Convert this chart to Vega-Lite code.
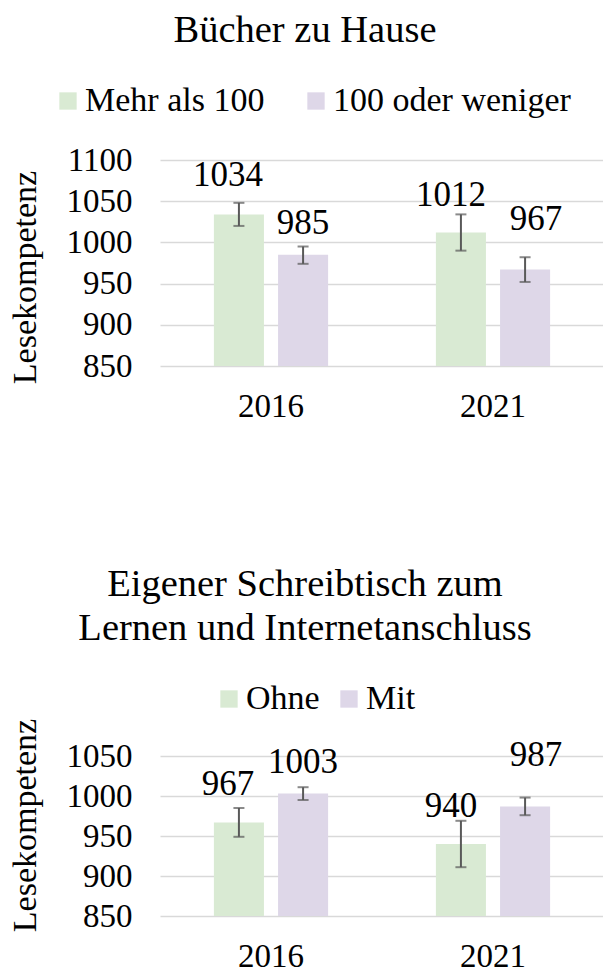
{
  "$schema": "https://vega.github.io/schema/vega-lite/v6.json",
  "padding": {"left": 8, "top": 10, "right": 0, "bottom": 0},
  "background": "white",
  "datasets": {
    "books": [
      {"year": "2016", "group": "Mehr als 100", "value": 1034, "lo": 1020, "hi": 1048},
      {"year": "2016", "group": "100 oder weniger", "value": 985, "lo": 974, "hi": 995},
      {"year": "2021", "group": "Mehr als 100", "value": 1012, "lo": 990, "hi": 1034},
      {"year": "2021", "group": "100 oder weniger", "value": 967, "lo": 952, "hi": 982}
    ],
    "desk": [
      {"year": "2016", "group": "Ohne", "value": 967, "lo": 949, "hi": 985},
      {"year": "2016", "group": "Mit", "value": 1003, "lo": 995, "hi": 1011},
      {"year": "2021", "group": "Ohne", "value": 940, "lo": 911, "hi": 969},
      {"year": "2021", "group": "Mit", "value": 987, "lo": 976, "hi": 998}
    ]
  },
  "vconcat": [
    {
      "width": 444,
      "height": 206,
      "data": {"name": "books"},
      "title": {"text": "Bücher zu Hause", "fontSize": 38.5, "font": "Liberation Serif", "fontWeight": "normal", "color": "#000000", "anchor": "middle", "frame": "group", "offset": 34, "dx": -77},
      "encoding": {
        "x": {"field": "year", "type": "nominal", "scale": {"paddingInner": 0, "paddingOuter": 0}, "axis": {"title": null, "labelAngle": 0}},
        "xOffset": {"field": "group", "type": "nominal", "sort": ["Mehr als 100", "100 oder weniger"], "scale": {"paddingInner": 0.22, "paddingOuter": 0.84}}
      },
      "layer": [
        {
          "mark": {"type": "bar", "clip": true},
          "encoding": {
            "y": {"field": "value", "type": "quantitative", "scale": {"domain": [850, 1100], "zero": false, "nice": false}, "axis": {"values": [850, 900, 950, 1000, 1050, 1100], "tickCount": 20, "format": "d", "title": "Lesekompetenz", "titleY": 117}},
            "color": {"field": "group", "type": "nominal", "sort": ["Mehr als 100", "100 oder weniger"], "scale": {"domain": ["Mehr als 100", "100 oder weniger"], "range": ["#d9ead3", "#ded7e8"]}, "legend": {"title": null, "orient": "none", "direction": "horizontal", "legendX": -109, "legendY": -76, "columnPadding": 34}}
          }
        },
        {
          "mark": {"type": "rule", "color": "#595959", "strokeWidth": 2},
          "encoding": {"y": {"field": "lo", "type": "quantitative"}, "y2": {"field": "hi"}}
        },
        {
          "mark": {"type": "tick", "color": "#595959", "thickness": 2, "size": 11},
          "encoding": {"y": {"field": "lo", "type": "quantitative"}}
        },
        {
          "mark": {"type": "tick", "color": "#595959", "thickness": 2, "size": 11},
          "encoding": {"y": {"field": "hi", "type": "quantitative"}}
        },
        {
          "transform": [{"filter": "datum.year == '2016' && datum.group == 'Mehr als 100'"}],
          "mark": {"type": "text", "fontSize": 35, "font": "Liberation Serif", "color": "#000000", "baseline": "alphabetic", "dx": -11, "dy": -28},
          "encoding": {"y": {"field": "value", "type": "quantitative"}, "text": {"field": "value", "type": "quantitative", "format": "d"}}
        },
        {
          "transform": [{"filter": "datum.year == '2016' && datum.group == '100 oder weniger'"}],
          "mark": {"type": "text", "fontSize": 35, "font": "Liberation Serif", "color": "#000000", "baseline": "alphabetic", "dx": 0, "dy": -20.5},
          "encoding": {"y": {"field": "value", "type": "quantitative"}, "text": {"field": "value", "type": "quantitative", "format": "d"}}
        },
        {
          "transform": [{"filter": "datum.year == '2021' && datum.group == 'Mehr als 100'"}],
          "mark": {"type": "text", "fontSize": 35, "font": "Liberation Serif", "color": "#000000", "baseline": "alphabetic", "dx": -10, "dy": -27},
          "encoding": {"y": {"field": "value", "type": "quantitative"}, "text": {"field": "value", "type": "quantitative", "format": "d"}}
        },
        {
          "transform": [{"filter": "datum.year == '2021' && datum.group == '100 oder weniger'"}],
          "mark": {"type": "text", "fontSize": 35, "font": "Liberation Serif", "color": "#000000", "baseline": "alphabetic", "dx": 11, "dy": -40},
          "encoding": {"y": {"field": "value", "type": "quantitative"}, "text": {"field": "value", "type": "quantitative", "format": "d"}}
        }
      ]
    },
    {
      "width": 444,
      "height": 160,
      "data": {"name": "desk"},
      "title": {"text": ["Eigener Schreibtisch zum", "Lernen und Internetanschluss"], "lineHeight": 44, "fontSize": 38.5, "font": "Liberation Serif", "fontWeight": "normal", "color": "#000000", "anchor": "middle", "frame": "group", "offset": 34, "dx": -77},
      "encoding": {
        "x": {"field": "year", "type": "nominal", "scale": {"paddingInner": 0, "paddingOuter": 0}, "axis": {"title": null, "labelAngle": 0}},
        "xOffset": {"field": "group", "type": "nominal", "sort": ["Ohne", "Mit"], "scale": {"paddingInner": 0.22, "paddingOuter": 0.84}}
      },
      "layer": [
        {
          "mark": {"type": "bar", "clip": true},
          "encoding": {
            "y": {"field": "value", "type": "quantitative", "scale": {"domain": [850, 1050], "zero": false, "nice": false}, "axis": {"values": [850, 900, 950, 1000, 1050], "tickCount": 20, "format": "d", "title": "Lesekompetenz", "titleY": 69, "labelOverlap": false}},
            "color": {"field": "group", "type": "nominal", "sort": ["Ohne", "Mit"], "scale": {"domain": ["Ohne", "Mit"], "range": ["#d9ead3", "#ded7e8"]}, "legend": {"title": null, "orient": "none", "direction": "horizontal", "legendX": 52, "legendY": -74, "columnPadding": 12}}
          }
        },
        {
          "mark": {"type": "rule", "color": "#595959", "strokeWidth": 2},
          "encoding": {"y": {"field": "lo", "type": "quantitative"}, "y2": {"field": "hi"}}
        },
        {
          "mark": {"type": "tick", "color": "#595959", "thickness": 2, "size": 11},
          "encoding": {"y": {"field": "lo", "type": "quantitative"}}
        },
        {
          "mark": {"type": "tick", "color": "#595959", "thickness": 2, "size": 11},
          "encoding": {"y": {"field": "hi", "type": "quantitative"}}
        },
        {
          "transform": [{"filter": "datum.year == '2016' && datum.group == 'Ohne'"}],
          "mark": {"type": "text", "fontSize": 35, "font": "Liberation Serif", "color": "#000000", "baseline": "alphabetic", "dx": -11, "dy": -27},
          "encoding": {"y": {"field": "value", "type": "quantitative"}, "text": {"field": "value", "type": "quantitative", "format": "d"}}
        },
        {
          "transform": [{"filter": "datum.year == '2016' && datum.group == 'Mit'"}],
          "mark": {"type": "text", "fontSize": 35, "font": "Liberation Serif", "color": "#000000", "baseline": "alphabetic", "dx": 0, "dy": -20.5},
          "encoding": {"y": {"field": "value", "type": "quantitative"}, "text": {"field": "value", "type": "quantitative", "format": "d"}}
        },
        {
          "transform": [{"filter": "datum.year == '2021' && datum.group == 'Ohne'"}],
          "mark": {"type": "text", "fontSize": 35, "font": "Liberation Serif", "color": "#000000", "baseline": "alphabetic", "dx": -10, "dy": -27},
          "encoding": {"y": {"field": "value", "type": "quantitative"}, "text": {"field": "value", "type": "quantitative", "format": "d"}}
        },
        {
          "transform": [{"filter": "datum.year == '2021' && datum.group == 'Mit'"}],
          "mark": {"type": "text", "fontSize": 35, "font": "Liberation Serif", "color": "#000000", "baseline": "alphabetic", "dx": 11, "dy": -40},
          "encoding": {"y": {"field": "value", "type": "quantitative"}, "text": {"field": "value", "type": "quantitative", "format": "d"}}
        }
      ]
    }
  ],
  "spacing": 141,
  "resolve": {"scale": {"color": "independent", "y": "independent", "x": "independent", "xOffset": "independent"}},
  "config": {
    "font": "Liberation Serif",
    "view": {"stroke": null},
    "axis": {"labelFont": "Liberation Serif", "titleFont": "Liberation Serif", "labelColor": "#000000", "titleColor": "#000000", "labelFontSize": 33, "titleFontSize": 34, "titleFontWeight": "normal", "domain": false, "ticks": false},
    "axisY": {"grid": true, "gridColor": "#d9d9d9", "gridWidth": 1.5, "labelPadding": 28, "titlePadding": 24, "labelOverlap": false},
    "axisX": {"grid": false, "labelPadding": 24},
    "legend": {"labelFont": "Liberation Serif", "labelFontSize": 34, "labelColor": "#000000", "symbolType": "square", "symbolSize": 300, "symbolStrokeWidth": 0, "symbolOpacity": 1, "labelOffset": 0, "labelLimit": 400}
  }
}
